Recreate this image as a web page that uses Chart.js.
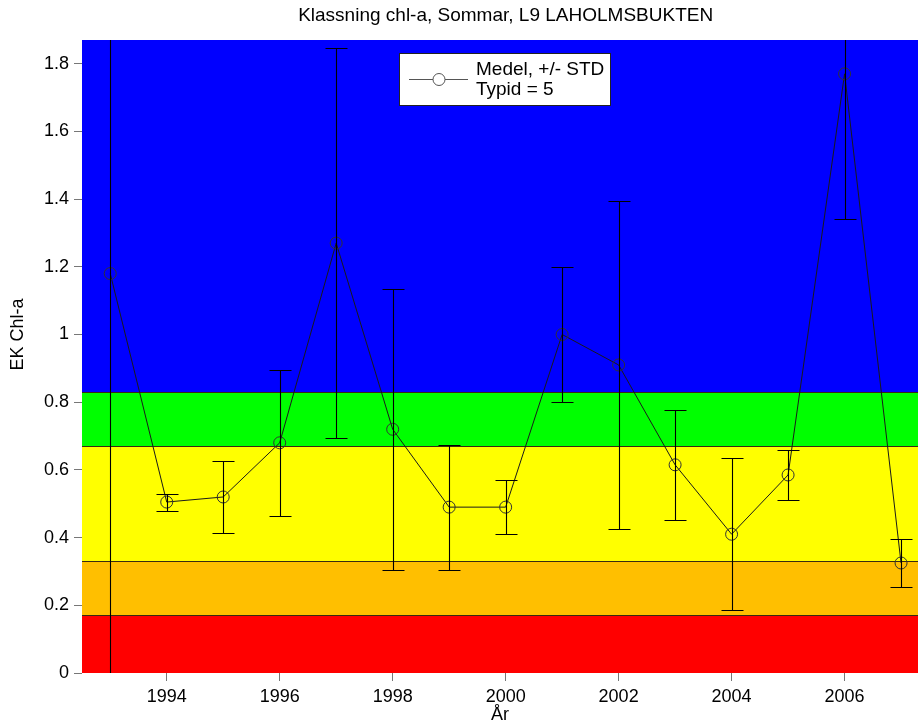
<!DOCTYPE html>
<html>
<head>
<meta charset="utf-8">
<script src="https://cdn.jsdelivr.net/npm/chart.js@4.4.1/dist/chart.umd.min.js"></script>
<style>
    html, body { margin: 0; padding: 0; background: #fff; overflow: hidden; }
    #wrap { width: 918px; height: 726px; }
</style>
</head>
<body>
<div id="wrap"><canvas id="chl"></canvas></div>
<script>
// values
const years = [1993, 1994, 1995, 1996, 1997, 1998, 1999, 2000, 2001, 2002, 2003, 2004, 2005, 2006, 2007];
const means = [1.18, 0.505, 0.52, 0.68, 1.27, 0.72, 0.49, 0.49, 1.0, 0.91, 0.615, 0.41, 0.585, 1.77, 0.325];
const stds  = [1.25, 0.025, 0.105, 0.215, 0.575, 0.415, 0.185, 0.08, 0.2, 0.485, 0.163, 0.225, 0.075, 0.43, 0.072];

const xTicks = [1994, 1996, 1998, 2000, 2002, 2004, 2006];
const yTicks = [0, 0.2, 0.4, 0.6, 0.8, 1, 1.2, 1.4, 1.6, 1.8];

// class limits (status bands) bottom -> top
const bandLimits = [0, 0.17, 0.33, 0.67, 0.83];
const bandColors = ['#ff0000', '#ffbf00', '#ffff00', '#00ff00', '#0000ff'];

const titleText = 'Klassning chl-a, Sommar, L9 LAHOLMSBUKTEN';
const yLabel = 'EK Chl-a';
const FONT = "'Liberation Sans', Arial, sans-serif";

const bandsPlugin = {
    id: 'bands',
    beforeDatasetsDraw(chart) {
        const { ctx, chartArea: a, scales: { y } } = chart;
        ctx.save();
        ctx.beginPath();
        ctx.rect(a.left, a.top, a.right - a.left, a.bottom - a.top);
        ctx.clip();
        for (let i = 0; i < bandLimits.length; i++) {
            const lo = bandLimits[i];
            const hi = i + 1 < bandLimits.length ? bandLimits[i + 1] : y.max;
            const yTop = y.getPixelForValue(hi);
            const yBot = y.getPixelForValue(lo);
            ctx.fillStyle = bandColors[i];
            ctx.fillRect(a.left, yTop, a.right - a.left, yBot - yTop);
        }
        // thin lines between the classes
        ctx.strokeStyle = '#3a2a10';
        ctx.lineWidth = 1;
        bandLimits.forEach(v => {
            const py = Math.round(y.getPixelForValue(v)) + 0.5;
            ctx.beginPath();
            ctx.moveTo(a.left, py);
            ctx.lineTo(a.right, py);
            ctx.stroke();
        });
        ctx.restore();
    }
};

const errorBarPlugin = {
    id: 'errbars',
    afterDatasetsDraw(chart) {
        const { ctx, chartArea: a, scales: { x, y } } = chart;
        ctx.save();
        ctx.beginPath();
        ctx.rect(a.left, a.top, a.right - a.left, a.bottom - a.top);
        ctx.clip();
        ctx.strokeStyle = '#000';
        ctx.lineWidth = 1.1;
        years.forEach((yr, i) => {
            const px = Math.round(x.getPixelForValue(yr)) + 0.5;
            const top = Math.round(y.getPixelForValue(means[i] + stds[i])) + 0.5;
            const bot = Math.round(y.getPixelForValue(means[i] - stds[i])) + 0.5;
            ctx.beginPath();
            ctx.moveTo(px, top);
            ctx.lineTo(px, bot);
            ctx.moveTo(px - 11, top);
            ctx.lineTo(px + 11, top);
            ctx.moveTo(px - 11, bot);
            ctx.lineTo(px + 11, bot);
            ctx.stroke();
        });
        ctx.restore();
    }
};

// title, y label and boxed legend (original figure is centred over year 2000)
const decorPlugin = {
    id: 'decor',
    afterDraw(chart) {
        const { ctx, chartArea: a, scales: { x, y } } = chart;
        ctx.save();
        ctx.fillStyle = '#000';
        ctx.font = '19px ' + FONT;
        ctx.textAlign = 'center';
        ctx.textBaseline = 'middle';
        ctx.fillText(titleText, x.getPixelForValue(2000), 16);

        ctx.save();
        ctx.font = '18px ' + FONT;
        ctx.translate(18, y.getPixelForValue(1.0));
        ctx.rotate(-Math.PI / 2);
        ctx.fillText(yLabel, 0, 0);
        ctx.restore();

        const left = a.left + 317, top = a.top + 13;
        ctx.fillStyle = '#fff';
        ctx.fillRect(left, top, 211, 52);
        ctx.strokeStyle = '#222';
        ctx.lineWidth = 1;
        ctx.strokeRect(left + 0.5, top + 0.5, 211, 52);
        ctx.strokeStyle = '#555';
        ctx.beginPath();
        ctx.moveTo(left + 10, top + 26.5);
        ctx.lineTo(left + 69, top + 26.5);
        ctx.stroke();
        ctx.beginPath();
        ctx.arc(left + 40, top + 26.5, 6, 0, Math.PI * 2);
        ctx.fill();
        ctx.stroke();
        ctx.fillStyle = '#000';
        ctx.font = '19px ' + FONT;
        ctx.textAlign = 'left';
        ctx.fillText('Medel, +/- STD', left + 77, top + 17);
        ctx.fillText('Typid = 5', left + 77, top + 37);
        ctx.restore();
    }
};

const ctx = document.getElementById('chl');
new Chart(ctx, {
    type: 'line',
    data: {
        datasets: [{
            label: 'Medel, +/- STD',
            data: years.map((yr, i) => ({ x: yr, y: means[i] })),
            borderColor: '#1a1a1a',
            borderWidth: 1,
            tension: 0,
            pointStyle: 'circle',
            pointRadius: 6,
            pointBorderColor: '#333',
            pointBorderWidth: 1,
            pointBackgroundColor: 'rgba(0,0,0,0)',
            clip: false
        }]
    },
    options: {
        responsive: true,
        maintainAspectRatio: false,
        animation: false,
        layout: { autoPadding: false, padding: { top: 40, right: 0, bottom: 0, left: 0 } },
        plugins: {
            legend: { display: false },
            tooltip: { enabled: false },
            title: { display: false }
        },
        scales: {
            x: {
                type: 'linear',
                min: 1992.5,
                max: 2007.3,
                afterBuildTicks: s => { s.ticks = xTicks.map(v => ({ value: v })); },
                afterFit: s => { s.height = 53; },
                grid: { display: true, drawOnChartArea: false, drawTicks: true, tickLength: 8, color: '#777' },
                border: { display: false },
                ticks: {
                    color: '#000',
                    padding: 5,
                    maxRotation: 0,
                    font: { family: FONT, size: 18 },
                    callback: v => String(v)
                },
                title: {
                    display: true,
                    text: 'År',
                    color: '#000',
                    font: { family: FONT, size: 18 },
                    padding: { top: 0, bottom: 0 }
                }
            },
            y: {
                type: 'linear',
                min: 0,
                max: 1.87,
                afterBuildTicks: s => { s.ticks = yTicks.map(v => ({ value: v })); },
                afterFit: s => { s.width = 82; },
                grid: { display: true, drawOnChartArea: false, drawTicks: true, tickLength: 8, color: '#777' },
                border: { display: false },
                ticks: {
                    color: '#000',
                    padding: 5,
                    font: { family: FONT, size: 18 },
                    callback: v => String(+v.toFixed(1))
                },
                title: { display: false }
            }
        }
    },
    plugins: [bandsPlugin, errorBarPlugin, decorPlugin]
});
</script>
</body>
</html>
